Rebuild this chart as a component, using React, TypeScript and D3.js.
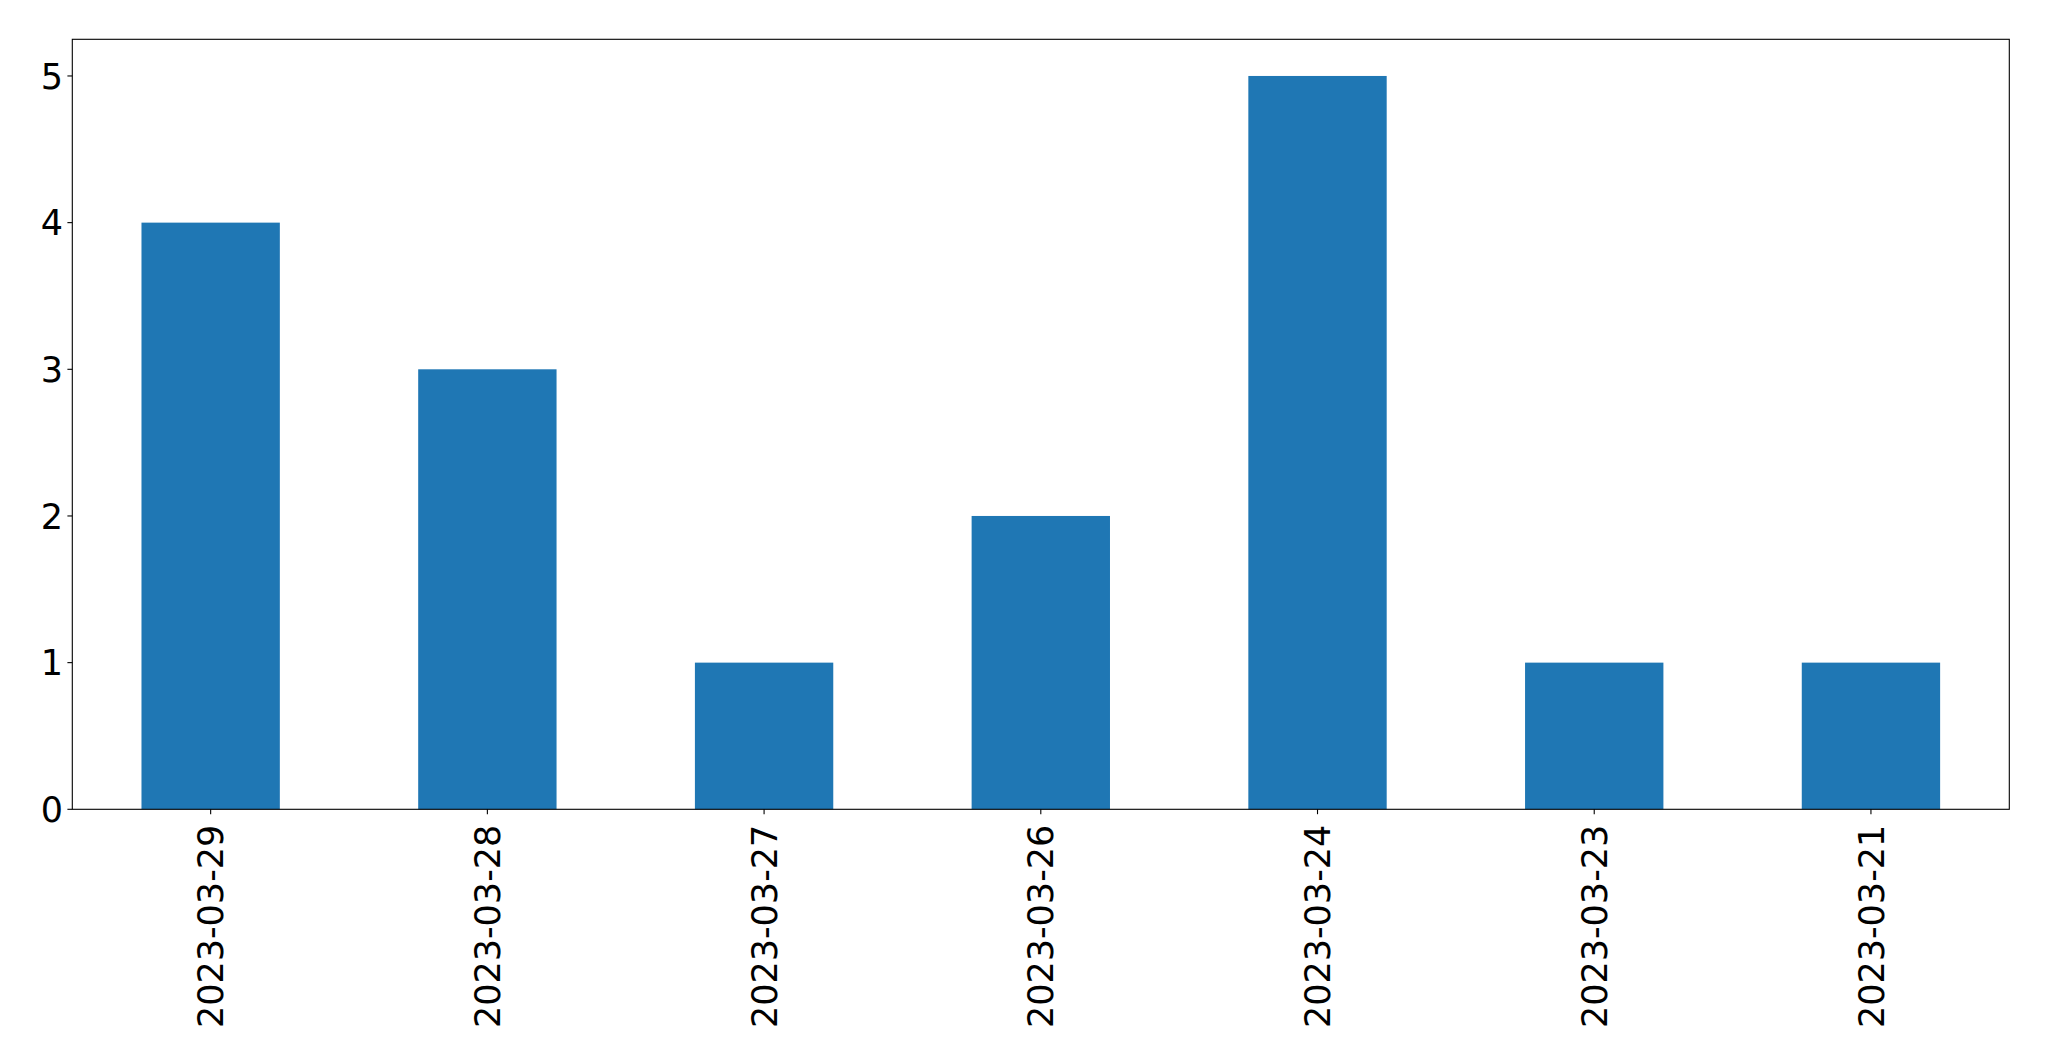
import * as d3 from "d3";
import React from "react";

// data
const dates = [
  "2023-03-29",
  "2023-03-28",
  "2023-03-27",
  "2023-03-26",
  "2023-03-24",
  "2023-03-23",
  "2023-03-21",
];
const counts = [4, 3, 1, 2, 5, 1, 1];
const yTicks = [0, 1, 2, 3, 4, 5];

const W = 2049;
const H = 1061;
const margin = { top: 39.3, right: 2049 - 2009.3, bottom: 1061 - 809.3, left: 72.3 };
const FONT = "'DejaVu Sans', sans-serif";
const BLUE = "#1f77b4";

const App: React.FC = () => {
  const plotW = W - margin.left - margin.right;
  const plotH = H - margin.top - margin.bottom;

  // matplotlib style: categories at integer positions, xlim -0.5..n-0.5
  const x = d3
    .scaleLinear()
    .domain([-0.5, dates.length - 0.5])
    .range([0, plotW]);
  const y = d3
    .scaleLinear()
    .domain([0, d3.max(counts)! * 1.05])
    .range([plotH, 0]);
  const barW = x(0.5) - x(0);
  const tickLen = 4.9;
  const fontSize = 35;

  return (
    <svg
      width={W}
      height={H}
      style={{ position: "absolute", left: 0, top: 0, background: "#fff" }}
      fontFamily={FONT}
    >
      <g transform={`translate(${margin.left},${margin.top})`}>
        {counts.map((c, i) => (
          <rect
            key={dates[i]}
            x={x(i) - barW / 2}
            y={y(c)}
            width={barW}
            height={plotH - y(c)}
            fill={BLUE}
          />
        ))}

        {/* frame */}
        <rect
          x={0}
          y={0}
          width={plotW}
          height={plotH}
          fill="none"
          stroke="#000"
          strokeWidth={1.1}
        />

        {/* y axis */}
        {yTicks.map((t) => (
          <g key={t} transform={`translate(0,${y(t)})`}>
            <line x1={-tickLen} x2={0} stroke="#000" strokeWidth={1.1} />
            <text
              x={-tickLen - 4.5}
              dy="0.36em"
              textAnchor="end"
              fontSize={fontSize}
              fill="#000"
            >
              {t}
            </text>
          </g>
        ))}

        {/* x axis */}
        {dates.map((d, i) => (
          <g key={d} transform={`translate(${x(i)},${plotH})`}>
            <line y1={0} y2={tickLen} stroke="#000" strokeWidth={1.1} />
            <text
              transform={`translate(0,${tickLen + 10.5}) rotate(-90)`}
              dy="0.36em"
              textAnchor="end"
              fontSize={fontSize}
              fill="#000"
            >
              {d}
            </text>
          </g>
        ))}
      </g>
    </svg>
  );
};

export default App;
